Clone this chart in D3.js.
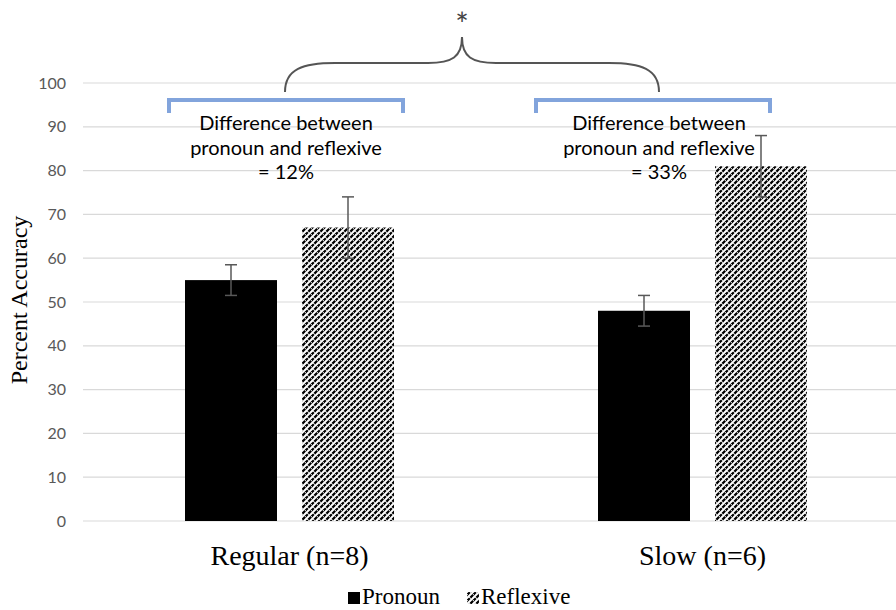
<!DOCTYPE html>
<html>
<head>
<meta charset="utf-8">
<script src="https://cdn.jsdelivr.net/npm/d3@7"></script>
<style>
  html, body { margin: 0; padding: 0; background: #fff; }
  svg { display: block; }
</style>
</head>
<body>
<svg id="chart" width="896" height="610"></svg>
<script>
// Groups and series
const groups = ["Regular (n=8)", "Slow (n=6)"];
const seriesNames = ["Pronoun", "Reflexive"];
const pronoun = [55, 48];
const reflexive = [67, 81];
const pronounErr = [3.5, 3.5];
const reflexiveErr = [7, 7];
const yTicks = [0, 10, 20, 30, 40, 50, 60, 70, 80, 90, 100];
const diffLabels = [
  ["Difference between", "pronoun and reflexive", "= 12%"],
  ["Difference between", "pronoun and reflexive", "= 33%"]
];

(function draw() {
const svg = d3.select("#chart");
const plotLeft = 83, plotRight = 909, plotTop = 83, plotBottom = 521;

const x = d3.scaleBand().domain(groups).range([plotLeft, plotRight]);
const y = d3.scaleLinear().domain([0, 100]).range([plotBottom, plotTop]);

// Hatch pattern for the reflexive bars
const defs = svg.append("defs");
const pat = defs.append("pattern")
  .attr("id", "hatch").attr("patternUnits", "userSpaceOnUse")
  .attr("width", 6).attr("height", 6);
pat.append("rect").attr("width", 6).attr("height", 6).attr("fill", "#fff");
pat.append("path").attr("d", "M-1,7 L7,-1 M-4,4 L4,-4 M2,10 L10,2")
  .attr("stroke", "#000").attr("stroke-width", 2.2).attr("stroke-dasharray", "4,0.8");

// Gridlines
svg.append("g").selectAll("line").data(yTicks).join("line")
  .attr("x1", plotLeft).attr("x2", 896)
  .attr("y1", d => y(d)).attr("y2", d => y(d))
  .attr("stroke", "#d9d9d9").attr("stroke-width", 1.2);

// Y axis tick labels
const yAxis = d3.axisLeft(y).tickValues(yTicks).tickSize(0).tickPadding(17);
const ya = svg.append("g").attr("transform", `translate(${plotLeft},0)`).call(yAxis);
ya.select(".domain").remove();
ya.selectAll("text")
  .attr("font-family", "Lato, 'Open Sans', sans-serif")
  .attr("font-size", 16).attr("fill", "#595959");

// Y axis title
svg.append("text")
  .attr("transform", "translate(27,300) rotate(-90)")
  .attr("text-anchor", "middle")
  .attr("font-family", "'Liberation Serif', 'Times New Roman', serif")
  .attr("font-size", 24).attr("fill", "#000")
  .text("Percent Accuracy");

// Bars
const barW = 92, gap = 25;
const offsets = [-(gap / 2 + barW), gap / 2];
const series = [
  { name: seriesNames[0], vals: pronoun, errs: pronounErr, fill: "#000" },
  { name: seriesNames[1], vals: reflexive, errs: reflexiveErr, fill: "url(#hatch)" }
];
series.forEach((s, si) => {
  const g = svg.append("g");
  g.selectAll("rect").data(groups).join("rect")
    .attr("x", d => x(d) + x.bandwidth() / 2 + offsets[si])
    .attr("width", barW)
    .attr("y", (d, i) => y(s.vals[i]))
    .attr("height", (d, i) => y(0) - y(s.vals[i]))
    .attr("fill", s.fill);
});

// Error bars
series.forEach((s, si) => {
  const g = svg.append("g").attr("stroke", "#595959").attr("stroke-width", 1.5);
  groups.forEach((d, i) => {
    const cx = x(d) + x.bandwidth() / 2 + offsets[si] + barW / 2;
    const hi = y(s.vals[i] + s.errs[i]), lo = y(s.vals[i] - s.errs[i]);
    g.append("line").attr("x1", cx).attr("x2", cx).attr("y1", hi).attr("y2", lo);
    g.append("line").attr("x1", cx - 6).attr("x2", cx + 6).attr("y1", hi).attr("y2", hi);
    g.append("line").attr("x1", cx - 6).attr("x2", cx + 6).attr("y1", lo).attr("y2", lo);
  });
});

// Category labels
svg.append("g").selectAll("text").data(groups).join("text")
  .attr("x", d => x(d) + x.bandwidth() / 2)
  .attr("y", 565)
  .attr("text-anchor", "middle")
  .attr("font-family", "'Liberation Serif', 'Times New Roman', serif")
  .attr("font-size", 28).attr("fill", "#000")
  .text(d => d);

// Difference annotations: blue brackets + text
const bracketCenters = [286, 653];
const textCenters = [286, 659];
const bracketHalf = 117;
bracketCenters.forEach((cx, i) => {
  svg.append("path")
    .attr("d", `M${cx - bracketHalf},113 L${cx - bracketHalf},100 L${cx + bracketHalf},100 L${cx + bracketHalf},113`)
    .attr("fill", "none").attr("stroke", "#82a4dc").attr("stroke-width", 4);
  const t = svg.append("text")
    .attr("text-anchor", "middle")
    .attr("font-family", "Lato, 'Open Sans', sans-serif")
    .attr("font-size", 20).attr("fill", "#000");
  diffLabels[i].forEach((line, li) => {
    t.append("tspan").attr("x", textCenters[i]).attr("y", 130 + li * 24.5).text(line);
  });
});

// Curly brace joining the two comparisons
const bl = 285, br = 659, tip = 462;
const yb = 92, yh = 63, yt = 37;
svg.append("path")
  .attr("d", `M${bl},${yb} C${bl},${yh + 6} ${bl + 18},${yh} ${bl + 50},${yh}
              L${tip - 34},${yh} C${tip - 10},${yh} ${tip},${yh - 6} ${tip},${yt}
              C${tip},${yh - 6} ${tip + 10},${yh} ${tip + 34},${yh}
              L${br - 50},${yh} C${br - 18},${yh} ${br},${yh + 6} ${br},${yb}`)
  .attr("fill", "none").attr("stroke", "#555").attr("stroke-width", 2);
svg.append("text")
  .attr("x", tip).attr("y", 36).attr("text-anchor", "middle")
  .attr("font-family", "Lato, sans-serif").attr("font-size", 32).attr("fill", "#444")
  .text("*");

// Legend
const legend = svg.append("g");
const legendItems = [
  { name: seriesNames[0], fill: "#000", x: 348 },
  { name: seriesNames[1], fill: "url(#hatch)", x: 467 }
];
legendItems.forEach(it => {
  legend.append("rect").attr("x", it.x).attr("y", 592).attr("width", 12).attr("height", 12).attr("fill", it.fill);
  legend.append("text").attr("x", it.x + 14).attr("y", 604)
    .attr("font-family", "'Liberation Serif', 'Times New Roman', serif")
    .attr("font-size", 23).attr("fill", "#000").text(it.name);
});
})();
</script>
</body>
</html>
